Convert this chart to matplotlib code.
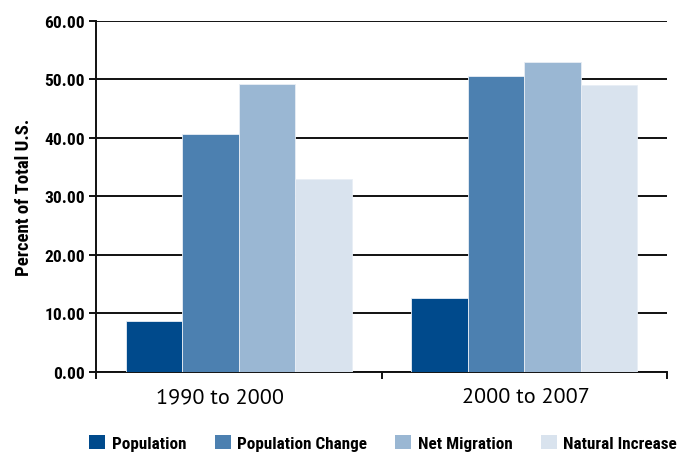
import numpy as np
import matplotlib.pyplot as plt
from matplotlib.patches import Patch

periods = ['1990 to 2000', '2000 to 2007']
series = ['Population', 'Population Change', 'Net Migration', 'Natural Increase']
population = [8.8, 12.6]
population_change = [40.7, 50.5]
net_migration = [49.2, 52.9]
natural_increase = [33.0, 49.1]
colors = ['#004a8c', '#4c80b0', '#9ab7d3', '#d9e3ee']

values = [population, population_change, net_migration, natural_increase]

plt.rcParams['font.family'] = ['Roboto Condensed', 'DejaVu Sans']

fig = plt.figure(figsize=(6.82, 4.56), dpi=100)
ax = fig.add_axes([0.141, 0.182, 0.837, 0.770])

x = np.arange(len(periods))
width = 0.198
for i, (vals, c) in enumerate(zip(values, colors)):
    ax.bar(x + (i - 1.5) * width, vals, width, color=c, edgecolor='#e8eef5',
           linewidth=0.6, zorder=3)

ax.set_xlim(-0.5, 1.5)
ax.set_ylim(0, 60)
ax.set_yticks(np.arange(0, 61, 10))
ax.set_yticklabels(['%.2f' % v for v in np.arange(0, 61, 10)],
                   fontsize=12.5, fontweight='bold')
ax.yaxis.grid(True, color='#111111', linewidth=1.4, zorder=0)
ax.set_axisbelow(True)

# category labels near the group centres (first one nudged left),
# visible ticks on the group boundaries
ax.set_xticks([-0.5, 0.5, 1.5])
ax.set_xticklabels([])
ax.set_xticks(x + np.array([-0.066, 0.007]), minor=True)
ax.set_xticklabels(periods, minor=True, fontsize=15.9,
                   family=['PT Sans', 'DejaVu Sans'])
ax.tick_params(axis='x', which='minor', length=0, pad=11)
ax.tick_params(axis='x', which='major', length=5, width=1.4, color='#111111')
ax.tick_params(axis='y', length=5, width=1.4, color='#111111', pad=3)

for s in ['top', 'right']:
    ax.spines[s].set_visible(False)
for s in ['left', 'bottom']:
    ax.spines[s].set_linewidth(1.4)
    ax.spines[s].set_color('#111111')

ax.set_ylabel('Percent of Total U.S.', fontsize=13.5, fontweight='bold', labelpad=8)

handles = [Patch(facecolor=c, edgecolor='none') for c in colors]
fig.legend(handles, series, loc='center', ncol=4, frameon=False,
           bbox_to_anchor=(0.562, 0.026), prop={'size': 12.3, 'weight': 'bold'},
           handlelength=0.94, handleheight=0.88, handletextpad=0.38,
           columnspacing=1.65)

fig.savefig('out.png', dpi=100)
